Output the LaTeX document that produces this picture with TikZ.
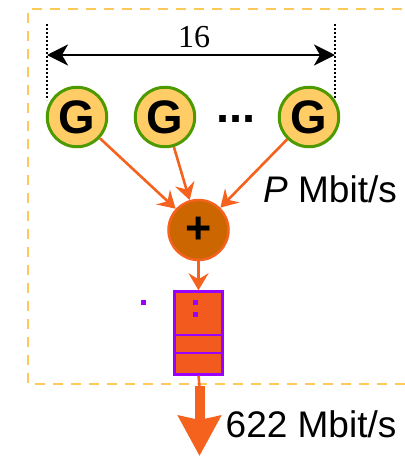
\documentclass[tikz,border=0pt]{standalone}
\usepackage{fontspec}
\setmainfont{Liberation Sans}
\newfontfamily\dimfont{Liberation Serif}
\usetikzlibrary{arrows.meta}
\definecolor{gfill}{HTML}{FFCC66}
\definecolor{gline}{HTML}{4D9900}
\definecolor{pfill}{HTML}{CC6600}
\definecolor{orng}{HTML}{F5621E}
\definecolor{qfill}{HTML}{F25A1E}
\definecolor{purp}{HTML}{9900FF}
\definecolor{boxdash}{HTML}{FFC95A}
\begin{document}
\begin{tikzpicture}[x=1pt,y=-1pt,
  gen/.style={circle, fill=gfill, draw=gline, line width=3pt, minimum size=59.5pt, inner sep=0pt,
    font=\fontsize{47}{47}\selectfont\bfseries},
  adder/.style={circle, fill=pfill, draw=orng, line width=2.5pt, minimum size=60pt, inner sep=0pt,
    font=\fontsize{45}{45}\selectfont\bfseries},
  queue/.style={rectangle, fill=qfill, draw=purp, line width=2.5pt, minimum width=48pt, minimum height=83pt, inner sep=0pt},
  arr/.style={draw=orng, line width=2.6pt, -{Stealth[length=17pt,width=20pt,inset=6pt]}},
  dimarrow/.style={draw=black, line width=2.5pt, {Stealth[length=21pt,width=21pt,inset=6pt]}-{Stealth[length=21pt,width=21pt,inset=6pt]}},
  dimguide/.style={draw=black, line width=2pt, dash pattern=on 2pt off 2pt},
  frame/.style={draw=boxdash, line width=2.5pt, dash pattern=on 10pt off 8pt},
  lbl/.style={inner sep=0pt, font=\fontsize{37}{37}\selectfont},
  pix/.style={fill=purp, minimum size=5.5pt, inner sep=0pt, rectangle}]
\useasboundingbox (0,0) rectangle (405,456);
% frame
\draw[frame] (420,9) -- (28,9) -- (28,384) -- (420,384);
% dimension
\coordinate (dl1) at (47,24);
\coordinate (dl2) at (47,100);
\coordinate (dr1) at (335,24);
\coordinate (dr2) at (335,100);
\draw[dimguide] (dl1) -- (dl2);
\draw[dimguide] (dr1) -- (dr2);
\coordinate (da) at (47,55);
\coordinate (db) at (335,55);
\draw[dimarrow] (da) -- (db);
\node[inner sep=0pt, font=\dimfont\fontsize{32}{32}\selectfont] (n16) at (194,37.5) {16};
% generators
\node[gen] (g1) at (77,117) {G};
\node[gen] (g2) at (165,117) {G};
\node[gen] (g3) at (309,117) {G};
\node[inner sep=0pt, anchor=base, font=\fontsize{47}{47}\selectfont\bfseries] (dots) at (236,122) {...};
% adder
\node[adder] (plus) at (198.5,230) {+};
\draw[arr] (g1) -- (plus);
\draw[arr] (g2) -- (plus);
\draw[arr] (g3) -- (plus);
\node[lbl, anchor=base west] (rate) at (263,202) {\textit{P} Mbit/s};
% queue
\node[queue] (q) at (198.5,333) {};
\draw[draw=purp, line width=2.5pt] (q.west |- 0,335) -- (q.east |- 0,335);
\draw[draw=purp, line width=2.5pt] (q.west |- 0,353) -- (q.east |- 0,353);
\node[pix] (p1) at (143.3,302.7) {};
\node[pix] (p2) at (195.3,302.7) {};
\node[pix] (p3) at (195.3,314.7) {};
\draw[arr] (plus) -- (q.north);
% output
\coordinate (o1) at (199.5,386);
\coordinate (o2) at (199.5,456);
\draw[draw=orng, line width=2.5pt] (q.south) -- (o1);
\draw[draw=orng, line width=10pt, -{Stealth[length=40pt,width=42pt,inset=4pt]}] (o1) -- (o2);
\node[lbl, anchor=base west] (out) at (225.5,437) {622 Mbit/s};
\end{tikzpicture}
\end{document}
